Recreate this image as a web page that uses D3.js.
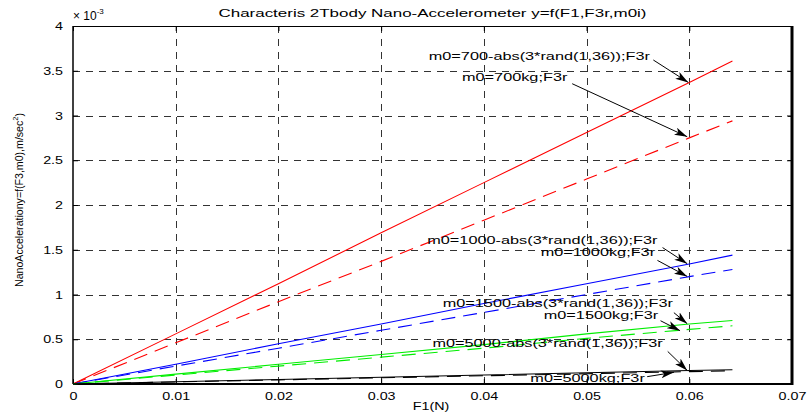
<!DOCTYPE html>
<html>
<head>
<meta charset="utf-8">
<script src="https://cdn.jsdelivr.net/npm/d3@7/dist/d3.min.js"></script>
<style>
  html, body { margin: 0; padding: 0; background: #fff; }
  svg { display: block; font-family: Arial, "Liberation Sans", sans-serif; }
</style>
</head>
<body>
<svg id="chart" width="811" height="414"></svg>
<script>
// F1 sample points (N) and accelerations (x 1e-3 m/sec^2)
const f1 = [0, 0.01, 0.02, 0.03, 0.04, 0.05, 0.06, 0.0642];

const red700rand  = [0, 0.56, 1.12, 1.69, 2.25, 2.81, 3.37, 3.61];
const red700      = [0, 0.46, 0.92, 1.37, 1.83, 2.29, 2.75, 2.94];
const blue1000rand = [0, 0.22, 0.45, 0.67, 0.90, 1.12, 1.34, 1.44];
const blue1000     = [0, 0.20, 0.40, 0.60, 0.80, 1.00, 1.20, 1.28];
const green1500rand = [0, 0.11, 0.22, 0.33, 0.44, 0.56, 0.67, 0.71];
const green1500     = [0, 0.10, 0.20, 0.30, 0.40, 0.51, 0.61, 0.65];
const black5000rand = [0, 0.025, 0.05, 0.075, 0.10, 0.125, 0.15, 0.16];
const black5000     = [0, 0.023, 0.046, 0.069, 0.092, 0.115, 0.138, 0.148];

const xTicks = [0, 0.01, 0.02, 0.03, 0.04, 0.05, 0.06, 0.07];
const yTicks = [0, 0.5, 1, 1.5, 2, 2.5, 3, 3.5, 4];

// label, text x, text y, arrow start x, y, arrow end x, y (data units)
const notes = [
  ["m0=700-abs(3*rand(1,36));F3r", 0.0454, 3.657, 0.0565, 3.62, 0.0599, 3.37],
  ["m0=700kg;F3r",                 0.0430, 3.426, 0.0486, 3.355, 0.0598, 2.763],
  ["m0=1000-abs(3*rand(1,36));F3r",0.0457, 1.601, 0.0574, 1.524, 0.0598, 1.344],
  ["m0=1000kg;F3r",                0.0511, 1.467, 0.0569, 1.381, 0.0598, 1.202],
  ["m0=1500-abs(3*rand(1,36));F3r",0.0472, 0.900, 0.0585, 0.797, 0.0598, 0.674],
  ["m0=1500kg;F3r",                0.0514, 0.765, 0.0572, 0.707, 0.0591, 0.596],
  ["m0=5000-abs(3*rand(1,36));F3r",0.0462, 0.450, 0.0579, 0.364, 0.0598, 0.152],
  ["m0=5000kg;F3r",                0.0501, 0.059, 0.0559, 0.082, 0.0585, 0.130]
];

const series = [
  { y: red700rand,    color: "#ff0000", dash: null },
  { y: red700,        color: "#ff0000", dash: "14,8" },
  { y: blue1000rand,  color: "#0000ff", dash: null },
  { y: blue1000,      color: "#0000ff", dash: "14,8" },
  { y: green1500rand, color: "#00ee00", dash: null },
  { y: green1500,     color: "#00ee00", dash: "14,8" },
  { y: black5000rand, color: "#000000", dash: null },
  { y: black5000,     color: "#000000", dash: "14,8" }
];

const pLeft = 73, pRight = 792, pTop = 26, pBottom = 384;
const svg = d3.select("#chart");

const x = d3.scaleLinear().domain([0, 0.07]).range([pLeft, pRight]);
const y = d3.scaleLinear().domain([0, 4]).range([pBottom, pTop]);

// stretch text horizontally like the original export
function stretch(sel, factor) {
  sel.each(function() {
    const w = this.getComputedTextLength();
    d3.select(this).attr("textLength", w * factor).attr("lengthAdjust", "spacingAndGlyphs");
  });
}

// grid
const grid = svg.append("g").attr("stroke", "#333").attr("stroke-dasharray", "7,6").attr("stroke-width", 1);
grid.selectAll(".gx").data(xTicks.slice(1, -1)).enter().append("line")
  .attr("x1", d => Math.round(x(d)) + 0.5).attr("x2", d => Math.round(x(d)) + 0.5)
  .attr("y1", pTop).attr("y2", pBottom);
grid.selectAll(".gy").data(yTicks.slice(1, -1)).enter().append("line")
  .attr("y1", d => Math.round(y(d)) + 0.5).attr("y2", d => Math.round(y(d)) + 0.5)
  .attr("x1", pLeft).attr("x2", pRight);

// axes (ticks inward, labels stretched)
const xAxis = svg.append("g").attr("transform", `translate(0,${pBottom})`)
  .call(d3.axisBottom(x).tickValues(xTicks).tickSizeInner(-5).tickSizeOuter(0).tickPadding(8).tickFormat(d3.format("")));
const yAxis = svg.append("g").attr("transform", `translate(${pLeft},0)`)
  .call(d3.axisLeft(y).tickValues(yTicks).tickSizeInner(-5).tickSizeOuter(0).tickPadding(10).tickFormat(d3.format("")));
svg.append("g").attr("transform", `translate(0,${pTop})`)
  .call(d3.axisTop(x).tickValues(xTicks).tickSizeInner(-5).tickSizeOuter(0).tickFormat(""));
svg.append("g").attr("transform", `translate(${pRight},0)`)
  .call(d3.axisRight(y).tickValues(yTicks).tickSizeInner(-5).tickSizeOuter(0).tickFormat(""));
svg.selectAll(".domain").remove();
svg.selectAll(".tick line").attr("stroke", "#000");
[xAxis, yAxis].forEach(a => a.selectAll("text")
  .attr("font-size", 11).attr("font-family", "Arial, 'Liberation Sans', sans-serif").attr("fill", "#000"));
stretch(xAxis.selectAll("text"), 1.3);
stretch(yAxis.selectAll("text"), 1.3);

// box
svg.append("line").attr("x1", pLeft).attr("x2", pRight).attr("y1", pTop + 0.5).attr("y2", pTop + 0.5).attr("stroke", "#000");
svg.append("line").attr("x1", pLeft).attr("x2", pLeft).attr("y1", pTop).attr("y2", pBottom).attr("stroke", "#000").attr("stroke-width", 1.5);
svg.append("line").attr("x1", pRight).attr("x2", pRight).attr("y1", pTop).attr("y2", pBottom + 1).attr("stroke", "#000").attr("stroke-width", 3);
svg.append("line").attr("x1", pLeft).attr("x2", pRight + 1).attr("y1", pBottom).attr("y2", pBottom).attr("stroke", "#000").attr("stroke-width", 2);

// data lines
const line = d3.line().x((d, i) => x(f1[i])).y(d => y(d));
svg.append("g").selectAll("path").data(series).enter().append("path")
  .attr("d", d => line(d.y))
  .attr("fill", "none")
  .attr("stroke", d => d.color)
  .attr("stroke-width", 1.1)
  .attr("stroke-dasharray", d => d.dash);

// arrows
svg.append("defs").append("marker")
  .attr("id", "head").attr("viewBox", "0 0 10 6").attr("refX", 10).attr("refY", 3)
  .attr("markerWidth", 13).attr("markerHeight", 8).attr("markerUnits", "userSpaceOnUse")
  .attr("orient", "auto")
  .append("path").attr("d", "M0,0L10,3L0,6L2.5,3Z").attr("fill", "#000");

const ann = svg.append("g");
ann.selectAll("line").data(notes).enter().append("line")
  .attr("x1", d => x(d[3])).attr("y1", d => y(d[4]))
  .attr("x2", d => x(d[5])).attr("y2", d => y(d[6]))
  .attr("stroke", "#000").attr("stroke-width", 1)
  .attr("marker-end", "url(#head)");
const annText = ann.selectAll("text").data(notes).enter().append("text")
  .attr("x", d => x(d[1])).attr("y", d => y(d[2]))
  .attr("dy", "0.35em").attr("text-anchor", "middle")
  .attr("font-size", 10.5).attr("fill", "#000")
  .text(d => d[0]);
stretch(annText, 1.55);

// title
const title = svg.append("text").attr("x", (pLeft + pRight) / 2).attr("y", 17)
  .attr("text-anchor", "middle").attr("font-size", 11.5).attr("fill", "#000")
  .text("Characteris 2Tbody Nano-Accelerometer y=f(F1,F3r,m0i)");
title.attr("textLength", 428).attr("lengthAdjust", "spacingAndGlyphs");

// exponent label
const expo = svg.append("text").attr("x", pLeft).attr("y", 20).attr("font-size", 12).attr("fill", "#000");
expo.append("tspan").text("\u00d7 10");
expo.append("tspan").text("-3").attr("dy", -6).attr("font-size", 8);

// x label
const xl = svg.append("text").attr("x", 431).attr("y", 410).attr("text-anchor", "middle")
  .attr("font-size", 11).attr("fill", "#000").text("F1(N)");
stretch(xl, 1.3);

// y label
const yl = svg.append("text").attr("transform", "translate(23,200) rotate(-90)")
  .attr("text-anchor", "middle").attr("font-size", 10).attr("fill", "#000")
  .attr("textLength", 174).attr("lengthAdjust", "spacingAndGlyphs");
yl.append("tspan").text("NanoAccelerationy=f(F3,m0),m/sec");
yl.append("tspan").text("2").attr("dy", -5).attr("font-size", 7);
yl.append("tspan").text(")").attr("dy", 5);
</script>
</body>
</html>
